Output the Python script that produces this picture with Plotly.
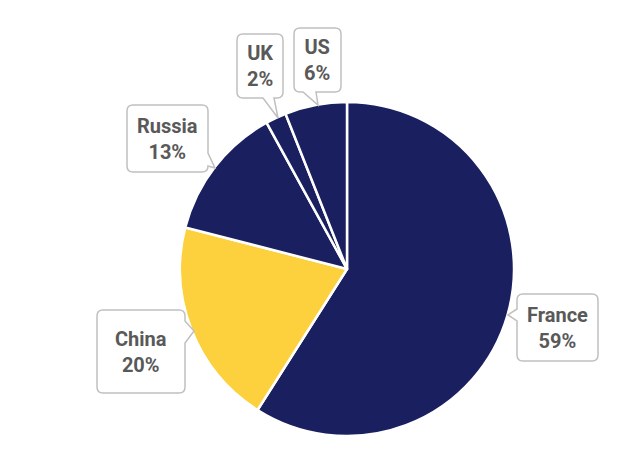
import plotly.graph_objects as go

W, H = 622, 458

countries = ["France", "China", "Russia", "UK", "US"]
shares = [59, 20, 13, 2, 6]
colors = ["#1a1f60", "#fdd03e", "#1a1f60", "#1a1f60", "#1a1f60"]

# callout boxes in pixels: (x0, y0, x1, y1, edge, base_a, base_b, tip_x, tip_y)
callouts = {
    "France": (517, 294, 598, 361, "left", 309, 321, 508, 315),
    "China": (97, 310, 185, 393, "right", 321, 343, 194, 331),
    "Russia": (127, 105, 208, 172, "right", 153, 166, 215, 168),
    "UK": (237, 34, 283, 98, "bottom", 263, 274, 278, 118),
    "US": (294, 28, 341, 92, "bottom", 303, 316, 318, 105),
}


def px(x, y):
    return f"{x / W:.5f},{1 - y / H:.5f}"


def callout_path(x0, y0, x1, y1, edge, a, b, tx, ty, r=6):
    p = [f"M {px(x0 + r, y0)}", f"L {px(x1 - r, y0)}",
         f"Q {px(x1, y0)} {px(x1, y0 + r)}"]
    if edge == "right":
        p += [f"L {px(x1, a)}", f"L {px(tx, ty)}", f"L {px(x1, b)}"]
    p += [f"L {px(x1, y1 - r)}", f"Q {px(x1, y1)} {px(x1 - r, y1)}"]
    if edge == "bottom":
        p += [f"L {px(b, y1)}", f"L {px(tx, ty)}", f"L {px(a, y1)}"]
    p += [f"L {px(x0 + r, y1)}", f"Q {px(x0, y1)} {px(x0, y1 - r)}"]
    if edge == "left":
        p += [f"L {px(x0, b)}", f"L {px(tx, ty)}", f"L {px(x0, a)}"]
    p += [f"L {px(x0, y0 + r)}", f"Q {px(x0, y0)} {px(x0 + r, y0)}", "Z"]
    return " ".join(p)


fig = go.Figure(go.Pie(
    labels=countries,
    values=shares,
    sort=False,
    direction="clockwise",
    rotation=0,
    marker=dict(colors=colors, line=dict(color="white", width=2.5)),
    textinfo="none",
    hoverinfo="label+percent",
    domain=dict(x=[180 / W, 514 / W], y=[1 - 436 / H, 1 - 102 / H]),
))

shapes = []
annotations = []
total = sum(shares)
for name, val in zip(countries, shares):
    x0, y0, x1, y1, edge, a, b, tx, ty = callouts[name]
    shapes.append(dict(
        type="path", xref="paper", yref="paper",
        path=callout_path(x0, y0, x1, y1, edge, a, b, tx, ty),
        line=dict(color="#c0c0c0", width=1.5), fillcolor="white", layer="above",
    ))
    annotations.append(dict(
        xref="paper", yref="paper",
        x=(x0 + x1) / 2 / W, y=1 - (y0 + y1) / 2 / H,
        xanchor="center", yanchor="middle",
        text=f"{name}<br>{round(100 * val / total)}%",
        showarrow=False, align="center",
        font=dict(family="Roboto", size=20, color="#595959", weight="bold"),
    ))

fig.update_layout(
    width=W, height=H,
    margin=dict(l=0, r=0, t=0, b=0),
    showlegend=False,
    paper_bgcolor="white",
    plot_bgcolor="white",
    shapes=shapes,
    annotations=annotations,
)

fig.write_html("out.html", config={"displayModeBar": False},
               post_script="document.body.style.margin='0';")
